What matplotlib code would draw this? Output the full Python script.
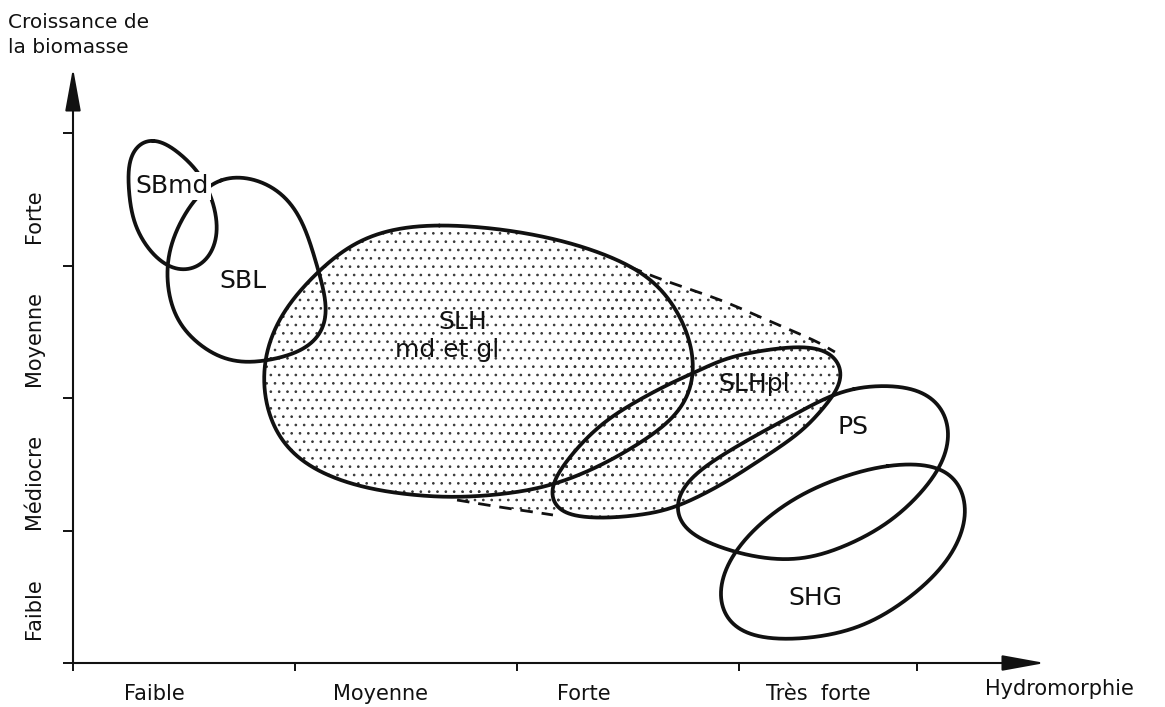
import numpy as np
import matplotlib
matplotlib.use("Agg")
import matplotlib.pyplot as plt

# ---------------- data (hydromorphie units on x, biomass class units on y) -------------
x_ticks = [0, 1, 2, 3, 3.8]
y_ticks = [0, 1, 2, 3, 4]
x_cat_labels = ["Faible", "Moyenne", "Forte", "Très  forte"]
x_cat_pos = [0.365, 1.387, 2.302, 3.356]
y_cat_labels = ["Faible", "Médiocre", "Moyenne", "Forte"]
y_cat_pos = [0.41, 1.37, 2.45, 3.37]

sbmd_x = [0.36, 0.45, 0.57, 0.63, 0.65, 0.65, 0.60, 0.51, 0.42, 0.33, 0.27, 0.25, 0.25, 0.29]
sbmd_y = [3.97, 3.89, 3.70, 3.49, 3.34, 3.19, 3.02, 2.95, 2.99, 3.14, 3.34, 3.59, 3.80, 3.93]

sbl_x = [0.66, 0.75, 0.87, 0.98, 1.05, 1.10, 1.135, 1.15, 1.11, 1.02, 0.90, 0.80, 0.685,
         0.59, 0.48, 0.43, 0.42, 0.43, 0.47, 0.53, 0.595]
sbl_y = [3.67, 3.68, 3.63, 3.49, 3.27, 2.99, 2.79, 2.59, 2.44, 2.34, 2.29, 2.26, 2.28,
         2.37, 2.54, 2.76, 2.97, 3.12, 3.29, 3.47, 3.59]

slh_x = [1.65, 1.955, 2.25, 2.495, 2.63, 2.70, 2.79, 2.81, 2.77, 2.63, 2.405, 2.15, 1.92,
         1.71, 1.505, 1.28, 1.05, 0.92, 0.856, 0.851, 0.888, 0.977, 1.113, 1.248, 1.428]
slh_y = [3.31, 3.27, 3.17, 3.02, 2.89, 2.74, 2.44, 2.19, 1.93, 1.74, 1.51, 1.33, 1.27,
         1.245, 1.27, 1.33, 1.48, 1.68, 1.985, 2.26, 2.49, 2.74, 2.97, 3.17, 3.28]

slhpl_x = [3.185, 3.333, 3.423, 3.468, 3.464, 3.41, 3.288, 3.095, 2.901, 2.703, 2.554,
           2.374, 2.225, 2.162, 2.149, 2.252, 2.405, 2.631, 2.824, 2.959]
slhpl_y = [2.377, 2.385, 2.34, 2.234, 2.113, 1.985, 1.758, 1.532, 1.328, 1.17, 1.117,
           1.094, 1.117, 1.177, 1.328, 1.585, 1.834, 2.06, 2.211, 2.309]

ps_x = [3.514, 3.667, 3.815, 3.919, 3.959, 3.937, 3.847, 3.694, 3.514, 3.288, 3.063,
        2.856, 2.721, 2.698, 2.721, 2.838, 3.063, 3.288, 3.41]
ps_y = [2.083, 2.098, 2.075, 1.962, 1.758, 1.555, 1.328, 1.079, 0.906, 0.777, 0.80,
        0.906, 1.026, 1.155, 1.306, 1.479, 1.706, 1.909, 2.023]

shg_x = [3.667, 3.815, 3.964, 4.027, 4.027, 3.937, 3.739, 3.514, 3.216, 2.991, 2.914,
         2.901, 2.959, 3.095, 3.288, 3.514]
shg_y = [1.494, 1.509, 1.457, 1.253, 1.057, 0.755, 0.453, 0.249, 0.174, 0.226, 0.377,
         0.551, 0.80, 1.057, 1.283, 1.434]

dash_up_x = [2.509, 2.658, 2.914, 3.126, 3.333, 3.432]
dash_up_y = [2.989, 2.891, 2.740, 2.589, 2.438, 2.347]
dash_lo_x = [1.730, 1.923, 2.104, 2.162]
dash_lo_y = [1.230, 1.177, 1.132, 1.117]

region_names = ["SBmd", "SBL", "SLH", "md et gl", "SLHpl", "PS", "SHG"]
region_label_x = [0.446, 0.766, 1.757, 1.685, 3.068, 3.514, 3.342]
region_label_y = [3.60, 2.883, 2.574, 2.362, 2.106, 1.781, 0.491]


# ---------------- helpers ----------------
def catmull(P, closed, n=30):
    P = np.asarray(P, float)
    if closed:
        N = len(P)
        idx = [((i - 1) % N, i, (i + 1) % N, (i + 2) % N) for i in range(N)]
    else:
        P = np.vstack([2 * P[0] - P[1], P, 2 * P[-1] - P[-2]])
        idx = [(i - 1, i, i + 1, i + 2) for i in range(1, len(P) - 2)]
    t = np.linspace(0, 1, n, endpoint=False)[:, None]
    out = []
    for a, b, c, d in idx:
        p0, p1, p2, p3 = P[a], P[b], P[c], P[d]
        out.append(0.5 * (2 * p1 + (-p0 + p2) * t + (2 * p0 - 5 * p1 + 4 * p2 - p3) * t ** 2
                          + (-p0 + 3 * p1 - 3 * p2 + p3) * t ** 3))
    out.append(P[-2:-1] if not closed else P[:1])
    return np.vstack(out)


def smooth_closed(ax, xs, ys, sigma=14.0, m=1024):
    """Closed smooth outline through the read points (display space, gaussian smoothing)."""
    D = ax.transData.transform(np.column_stack([xs, ys]))
    C = catmull(D, True)
    seg = np.hypot(*np.diff(C, axis=0).T)
    s = np.concatenate([[0], np.cumsum(seg)])
    L = s[-1]
    u = np.linspace(0, L, m, endpoint=False)
    z = np.interp(u, s, C[:, 0]) + 1j * np.interp(u, s, C[:, 1])
    f = np.fft.fftfreq(m, d=L / m)
    z = np.fft.ifft(np.fft.fft(z) * np.exp(-0.5 * (2 * np.pi * f * sigma) ** 2))
    z = np.append(z, z[0])
    back = ax.transData.inverted().transform(np.column_stack([z.real, z.imag]))
    return back[:, 0], back[:, 1]


def smooth_open(ax, xs, ys):
    D = ax.transData.transform(np.column_stack([xs, ys]))
    C = catmull(D, False)
    back = ax.transData.inverted().transform(C)
    return back[:, 0], back[:, 1]


# ---------------- figure ----------------
plt.rcParams['font.family'] = ['DejaVu Sans']
plt.rcParams['hatch.linewidth'] = 0.7
plt.rcParams['hatch.color'] = '#383838'

W, H = 1165, 707
fig = plt.figure(figsize=(W / 100, H / 100), dpi=100)
fig.patch.set_facecolor('white')
ax = fig.add_axes([73 / W, 44 / H, (1045 - 73) / W, (663 - 68) / H])
ax.set_xlim(0, (1045 - 73) / 222)
ax.set_ylim(0, (663 - 68) / 132.5)
for s in ax.spines.values():
    s.set_visible(False)
ax.patch.set_alpha(0)

ink = '#111111'
lw = 2.7

shapes = {"SBmd": (sbmd_x, sbmd_y, 14), "SBL": (sbl_x, sbl_y, 18), "SLH": (slh_x, slh_y, 28),
          "SLHpl": (slhpl_x, slhpl_y, 14), "PS": (ps_x, ps_y, 22), "SHG": (shg_x, shg_y, 22)}
curves = {name: smooth_closed(ax, xs, ys, sigma=sg) for name, (xs, ys, sg) in shapes.items()}

# stippled region: SLH + SLHpl + band between dashed lines
ux, uy = smooth_open(ax, dash_up_x, dash_up_y)
lx, ly = smooth_open(ax, dash_lo_x, dash_lo_y)
band_x = np.concatenate([ux, lx[::-1]])
band_y = np.concatenate([uy, ly[::-1]])
for fx, fy in [curves["SLH"], curves["SLHpl"], (band_x, band_y)]:
    ax.fill(fx, fy, facecolor='none', edgecolor='#383838', hatch='..', linewidth=0, zorder=1)

# outlines
for name, (cx, cy) in curves.items():
    ax.plot(cx, cy, color=ink, lw=lw, solid_capstyle='round', zorder=3)

ax.plot(ux, uy, color=ink, lw=2.0, linestyle=(0, (4.5, 3.2)), zorder=3)
ax.plot(lx, ly, color=ink, lw=2.0, linestyle=(0, (4.5, 3.2)), zorder=3)

# region labels
for name, tx, ty in zip(region_names, region_label_x, region_label_y):
    kw = {}
    if name == "SBmd":
        kw['bbox'] = dict(boxstyle='square,pad=0.08', facecolor='white', edgecolor='none')
    ax.text(tx, ty, name, ha='center', va='center', fontsize=18, color=ink, zorder=5, **kw)

# axes arrows
arrow_kw = dict(arrowstyle='-|>,head_length=2.2,head_width=0.4', color=ink, lw=1.5,
                shrinkA=0, shrinkB=0, mutation_scale=12)
ax.annotate('', xy=(1, 0), xycoords='axes fraction', xytext=(0, 0),
            textcoords='axes fraction', arrowprops=arrow_kw, annotation_clip=False)
ax.annotate('', xy=(0, 1), xycoords='axes fraction', xytext=(0, 0),
            textcoords='axes fraction', arrowprops=arrow_kw, annotation_clip=False)

# ticks
ax.set_xticks(x_ticks)
ax.set_xticklabels([])
ax.set_yticks(y_ticks)
ax.set_yticklabels([])
ax.tick_params(which='major', axis='x', direction='out', length=5.5, width=1.4, color=ink)
ax.tick_params(which='major', axis='y', direction='out', length=7.5, width=1.4, color=ink)
ax.set_xticks(x_cat_pos, minor=True)
ax.set_xticklabels(x_cat_labels, minor=True, fontsize=15, color=ink)
ax.set_yticks(y_cat_pos, minor=True)
ax.set_yticklabels(y_cat_labels, minor=True, fontsize=15, color=ink, rotation=90, va='center')
ax.tick_params(which='minor', axis='x', length=0, pad=15)
ax.tick_params(which='minor', axis='y', length=0, pad=21)

# axis titles
fig.text(8 / W, 1 - 28 / H, "Croissance de", ha='left', va='baseline',
         fontsize=14.5, color=ink)
fig.text(8 / W, 1 - 53 / H, "la biomasse", ha='left', va='baseline',
         fontsize=14.5, color=ink)
fig.text(985 / W, 1 - 695 / H, "Hydromorphie", ha='left', va='baseline',
         fontsize=15, color=ink)

fig.savefig('out.png', dpi=100, facecolor='white')
